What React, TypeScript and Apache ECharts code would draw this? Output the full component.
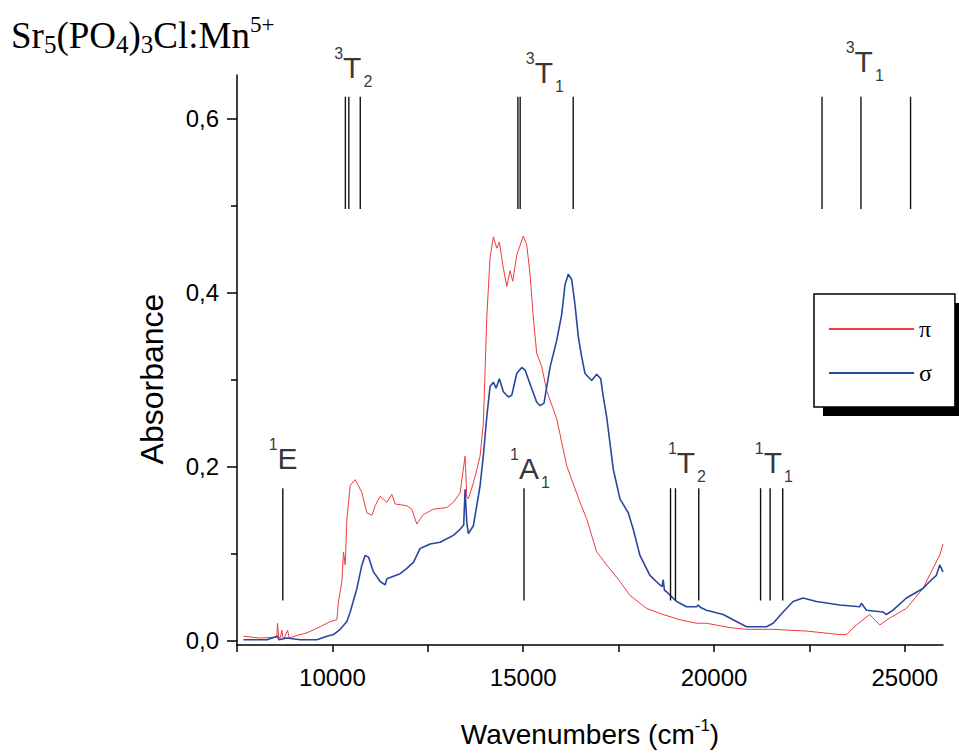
import React, { useEffect, useRef } from "react";
import * as echarts from "echarts";

// π polarisation (red)
const piWavenumbers = [
  7670, 8110, 8540, 8563, 8590, 8634, 8678, 8700, 8738, 8825,
  8869, 9071, 9333, 9681, 9943, 10118, 10160, 10249, 10291, 10335,
  10380, 10466, 10511, 10597, 10683, 10773, 10903, 11034, 11121, 11252,
  11427, 11558, 11644, 11951, 12082, 12212, 12385, 12647, 12998, 13171,
  13346, 13477, 13521, 13563, 13694, 13870, 13956, 14045, 14131, 14218,
  14307, 14375, 14480, 14569, 14655, 14726, 14830, 15003, 15092, 15179,
  15265, 15354, 15485, 15616, 15878, 16139, 16488, 16663, 16925, 17187,
  17535, 17797, 18234, 18668, 19105, 19543, 19805, 20415, 20852, 21548,
  22423, 23294, 23470, 23732, 24080, 24342, 24604, 25041, 25476, 25737,
  25913, 26000,
];
const piAbsorbance = [
  0.005, 0.003, 0.004, 0.020, 0.004, 0.003, 0.012, 0.004, 0.003, 0.012,
  0.003, 0.006, 0.009, 0.016, 0.022, 0.024, 0.045, 0.068, 0.102, 0.087,
  0.140, 0.178, 0.181, 0.185, 0.178, 0.170, 0.147, 0.144, 0.155, 0.166,
  0.159, 0.168, 0.157, 0.155, 0.151, 0.134, 0.145, 0.151, 0.153, 0.159,
  0.170, 0.212, 0.166, 0.163, 0.181, 0.212, 0.250, 0.371, 0.440, 0.464,
  0.451, 0.458, 0.428, 0.407, 0.425, 0.413, 0.443, 0.465, 0.455, 0.421,
  0.371, 0.330, 0.315, 0.287, 0.255, 0.201, 0.159, 0.140, 0.102, 0.087,
  0.068, 0.052, 0.037, 0.030, 0.024, 0.020, 0.020, 0.015, 0.013, 0.013,
  0.011, 0.007, 0.007, 0.018, 0.030, 0.018, 0.026, 0.037, 0.060, 0.083,
  0.098, 0.111,
];

// σ polarisation (blue)
const sigmaWavenumbers = [
  7670, 8285, 8560, 8600, 8809, 9157, 9594, 9856, 10029, 10204,
  10380, 10466, 10642, 10773, 10859, 10945, 11076, 11252, 11382, 11427,
  11775, 11951, 12123, 12299, 12561, 12823, 12998, 13171, 13346, 13440,
  13477, 13521, 13563, 13694, 13870, 13960, 14045, 14131, 14218, 14289,
  14375, 14480, 14611, 14700, 14830, 14961, 15048, 15179, 15354, 15441,
  15545, 15702, 15878, 16009, 16095, 16182, 16270, 16357, 16444, 16532,
  16619, 16706, 16794, 16925, 17030, 17099, 17187, 17360, 17535, 17752,
  17883, 18058, 18320, 18582, 18640, 18668, 18700, 18757, 19019, 19281,
  19543, 19585, 19650, 19805, 20239, 20501, 20852, 21114, 21376, 21548,
  21810, 22072, 22334, 22684, 23294, 23818, 23862, 23993, 24428, 24517,
  24690, 25041, 25476, 25651, 25826, 25913, 26000,
];
const sigmaAbsorbance = [
  0.001, 0.001, 0.005, 0.001, 0.003, 0.001, 0.001, 0.005, 0.007, 0.013,
  0.022, 0.033, 0.060, 0.087, 0.098, 0.096, 0.079, 0.068, 0.064, 0.071,
  0.077, 0.083, 0.090, 0.106, 0.111, 0.113, 0.117, 0.121, 0.128, 0.133,
  0.174, 0.136, 0.123, 0.132, 0.178, 0.215, 0.257, 0.292, 0.297, 0.290,
  0.301, 0.286, 0.280, 0.282, 0.307, 0.314, 0.311, 0.295, 0.274, 0.270,
  0.273, 0.314, 0.345, 0.375, 0.409, 0.421, 0.415, 0.386, 0.349, 0.326,
  0.307, 0.303, 0.299, 0.306, 0.301, 0.280, 0.257, 0.197, 0.163, 0.147,
  0.128, 0.098, 0.075, 0.064, 0.062, 0.070, 0.058, 0.056, 0.045, 0.039,
  0.039, 0.041, 0.038, 0.035, 0.030, 0.024, 0.016, 0.016, 0.016, 0.020,
  0.033, 0.045, 0.049, 0.045, 0.041, 0.039, 0.043, 0.035, 0.033, 0.030,
  0.035, 0.049, 0.060, 0.068, 0.075, 0.087, 0.079,
];

// axes
const xTickValues = [7500, 10000, 12500, 15000, 17500, 20000, 22500, 25000];
const xLabelValues = [10000, 15000, 20000, 25000];
const yMajorTicks = [0, 0.2, 0.4, 0.6];
const yMinorTicks = [0.1, 0.3, 0.5];

// calculated transition energies (cm-1) drawn as vertical bars
const singletTransitions = [8700, 15020, 18860, 18990, 19600, 21220, 21470, 21800];
const tripletTransitions = [10340, 10430, 10730, 14860, 14920, 16310, 22830, 23850, 25150];
const singletSpan = [0.046, 0.175];
const tripletSpan = [0.496, 0.625];

// term labels (rich text) and their anchor in data units
const stateLabelTexts = [
  "{sup|1}{main|E}",
  "{sup|1}{main|A}{sub|1}",
  "{sup|1}{main|T}{sub|2}",
  "{sup|1}{main|T}{sub|1}",
  "{sup|3}{main|T}{sub|2}",
  "{sup|3}{main|T}{sub|1}",
  "{sup|3}{main|T}{sub|1}",
];
const stateLabelX = [8330, 14655, 18791, 21069, 10047, 15066, 23451];
const stateLabelY = [0.2096, 0.198, 0.205, 0.205, 0.659, 0.653, 0.665];

export default function App() {
  const ref = useRef<HTMLDivElement>(null);

  useEffect(() => {
    if (!ref.current) return;
    const chart = echarts.init(ref.current, null, { renderer: "svg" });
    const sans = "'Liberation Sans', Arial, sans-serif";
    const serif = "'Liberation Serif', 'Times New Roman', serif";

    const zip = (xs: number[], ys: number[]) => xs.map((x, i) => [x, ys[i]]);

    const transitionData: any[] = [];
    singletTransitions.forEach((x) => {
      transitionData.push([x, singletSpan[0]], [x, singletSpan[1]], [x, "-"]);
    });
    tripletTransitions.forEach((x) => {
      transitionData.push([x, tripletSpan[0]], [x, tripletSpan[1]], [x, "-"]);
    });

    const labelData = stateLabelX.map((x, i) => [x, stateLabelY[i]]);

    const option: any = {
      animation: false,
      grid: { left: 237, right: 16, top: 75, bottom: 106 },
      xAxis: {
        type: "value",
        min: 7500,
        max: 26000,
        name: "Wavenumbers (cm{sup|-1})",
        nameLocation: "middle",
        nameGap: 72,
        nameTextStyle: {
          fontFamily: sans,
          fontSize: 28,
          color: "#000",
          lineHeight: 34,
          rich: {
            sup: { fontFamily: sans, fontSize: 17, lineHeight: 18, verticalAlign: "top", color: "#000" },
          },
        },
        axisLine: { onZero: false, lineStyle: { color: "#000", width: 1.5 } },
        axisTick: { customValues: xTickValues, length: 7, lineStyle: { color: "#000", width: 1.5 } },
        axisLabel: {
          customValues: xLabelValues,
          fontFamily: sans,
          fontSize: 24,
          color: "#000",
          margin: 20,
          formatter: (v: number) => String(Math.round(v)),
        },
        splitLine: { show: false },
      },
      yAxis: [
        {
          type: "value",
          min: -0.005,
          max: 0.65,
          position: "left",
          name: "Absorbance",
          nameLocation: "middle",
          nameRotate: 90,
          nameGap: 69,
          nameTextStyle: {
            fontFamily: sans,
            fontSize: 32,
            lineHeight: 32,
            color: "#000",
            padding: [0, 38, 0, 0],
          },
          axisLine: { onZero: false, lineStyle: { color: "#000", width: 1.5 } },
          axisTick: { customValues: yMajorTicks, length: 10, lineStyle: { color: "#000", width: 1.5 } },
          axisLabel: {
            customValues: yMajorTicks,
            fontFamily: sans,
            fontSize: 24,
            color: "#000",
            margin: 18,
            formatter: (v: number) => v.toFixed(1).replace(".", ","),
          },
          splitLine: { show: false },
        },
        {
          type: "value",
          min: -0.005,
          max: 0.65,
          position: "left",
          axisLine: { show: false, onZero: false },
          axisTick: { customValues: yMinorTicks, length: 6, lineStyle: { color: "#000", width: 1.5 } },
          axisLabel: { show: false },
          splitLine: { show: false },
        },
      ],
      legend: {
        data: ["π", "σ"],
        orient: "vertical",
        left: 814,
        top: 294,
        padding: [23, 23, 22, 14],
        itemWidth: 85,
        itemHeight: 24,
        itemGap: 20,
        backgroundColor: "#fff",
        borderColor: "#000",
        borderWidth: 1.5,
        borderRadius: 0,
        selectedMode: false,
        itemStyle: { opacity: 0, borderWidth: 0 },
        textStyle: { fontFamily: serif, fontSize: 24, lineHeight: 24, color: "#000" },
      },
      graphic: [
        {
          type: "rect",
          silent: true,
          z: 0,
          shape: { x: 823, y: 303, width: 140, height: 113 },
          style: { fill: "#000" },
        },
        {
          type: "text",
          left: 11,
          top: 13,
          z: 10,
          style: {
            text: "{m|Sr}{b|5}{m|(PO}{b|4}{m|)}{b|3}{m|Cl:Mn}{p|5+}",
            fill: "#000",
            rich: {
              m: { fontFamily: serif, fontSize: 37, lineHeight: 44, fill: "#000" },
              b: { fontFamily: serif, fontSize: 25, lineHeight: 29, verticalAlign: "bottom", fill: "#000" },
              p: { fontFamily: serif, fontSize: 23, lineHeight: 26, verticalAlign: "top", fill: "#000" },
            },
          },
        },
      ],
      series: [
        {
          name: "π",
          type: "line",
          data: zip(piWavenumbers, piAbsorbance),
          symbol: "none",
          showSymbol: false,
          color: "#f03c3c",
          lineStyle: { color: "#f03c3c", width: 1 },
          z: 2,
        },
        {
          name: "σ",
          type: "line",
          data: zip(sigmaWavenumbers, sigmaAbsorbance),
          symbol: "none",
          showSymbol: false,
          color: "#2a479e",
          lineStyle: { color: "#2a479e", width: 1.6 },
          z: 3,
        },
        {
          name: "transitions",
          type: "line",
          data: transitionData,
          symbol: "none",
          showSymbol: false,
          connectNulls: false,
          silent: true,
          lineStyle: { color: "#111", width: 1.4 },
          z: 4,
        },
        {
          name: "terms",
          type: "scatter",
          data: labelData,
          symbolSize: 0,
          clip: false,
          silent: true,
          z: 5,
          label: {
            show: true,
            position: "inside",
            align: "left",
            verticalAlign: "middle",
            color: "#000",
            fontFamily: sans,
            formatter: (p: any) => stateLabelTexts[p.dataIndex],
            lineHeight: 44,
            rich: {
              sup: { fontFamily: sans, fontSize: 16, lineHeight: 18, verticalAlign: "top", color: "#000" },
              main: { fontFamily: sans, fontSize: 30, lineHeight: 44, color: "#000" },
              sub: {
                fontFamily: sans,
                fontSize: 16,
                lineHeight: 14,
                verticalAlign: "bottom",
                color: "#000",
                padding: [0, 0, 0, 2],
              },
            },
          },
        },
      ],
    };

    chart.setOption(option);
    return () => chart.dispose();
  }, []);

  return (
    <div
      ref={ref}
      style={{ position: "absolute", left: 0, top: 0, width: 959, height: 756 }}
    />
  );
}
